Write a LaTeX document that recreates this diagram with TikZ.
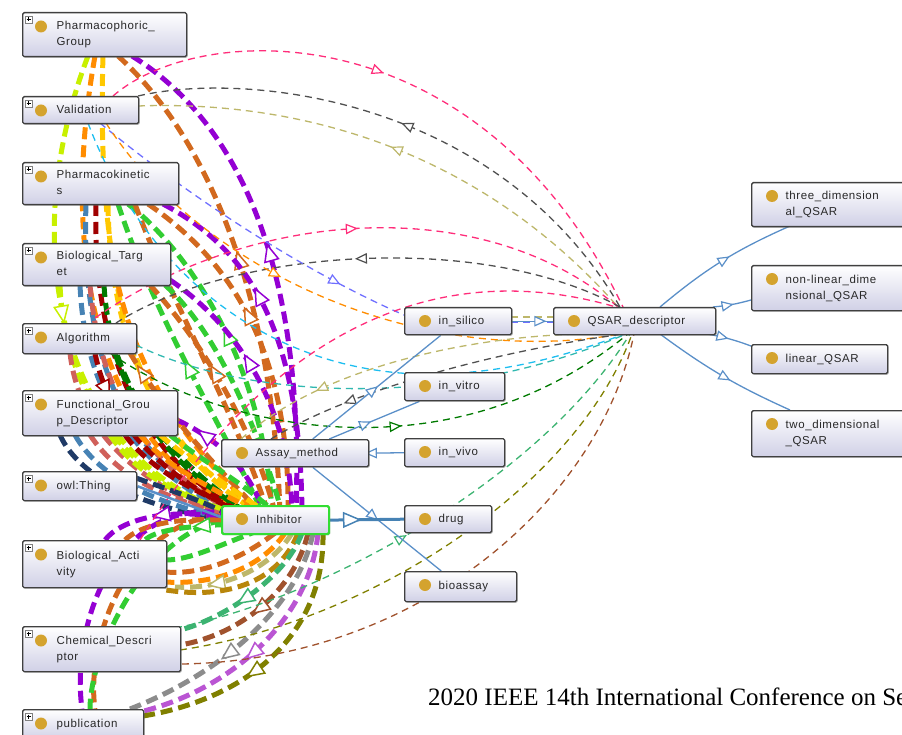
\documentclass[tikz,border=0pt]{standalone}
\usepackage{fontspec}
\setmainfont{Liberation Sans}
\newfontfamily\nodefont[LetterSpace=5]{Liberation Sans}
\newfontfamily\serifont{Liberation Serif}
\usetikzlibrary{arrows.meta,decorations.markings,shadows}
\pgfdeclarelayer{bg}
\pgfsetlayers{bg,main}
\definecolor{ygreen}{RGB}{200,240,0}
\definecolor{orng}{RGB}{255,140,0}
\definecolor{gld}{RGB}{255,200,0}
\definecolor{choco}{RGB}{210,105,30}
\definecolor{purp}{RGB}{148,0,211}
\definecolor{lgreen}{RGB}{50,205,50}
\definecolor{dred}{RGB}{160,0,0}
\definecolor{steel}{RGB}{70,130,180}
\definecolor{salm}{RGB}{208,96,90}
\definecolor{dgreen}{RGB}{0,122,0}
\definecolor{navy2}{RGB}{31,58,102}
\definecolor{seag}{RGB}{60,179,113}
\definecolor{sienna}{RGB}{160,82,45}
\definecolor{gry}{RGB}{140,140,140}
\definecolor{orch}{RGB}{186,85,211}
\definecolor{olive2}{RGB}{128,128,0}
\definecolor{khak}{RGB}{189,183,107}
\definecolor{dgold}{RGB}{184,134,11}
\definecolor{pnk}{RGB}{255,45,122}
\definecolor{cyn}{RGB}{30,190,240}
\definecolor{teal2}{RGB}{48,184,176}
\definecolor{bviol}{RGB}{111,111,255}
\definecolor{dgray}{RGB}{80,80,80}
\definecolor{blueline}{RGB}{90,143,200}
\definecolor{boxline}{RGB}{64,64,64}
\definecolor{boxbot}{RGB}{208,208,230}
\definecolor{inhgreen}{RGB}{51,221,51}
\definecolor{dotc}{RGB}{212,163,46}
\definecolor{txt}{RGB}{40,40,40}
\newcommand{\bx}[2]{\makebox[#1pt][l]{\hspace{31pt}\begin{tabular}{@{}l@{}}#2\end{tabular}}}
\tikzset{
 box/.style={draw=boxline, line width=1.4pt, rounded corners=1.5pt, top color=white, bottom color=boxbot,
   drop shadow={shadow xshift=1.2pt, shadow yshift=-1.2pt, opacity=.35},
   inner xsep=3pt, inner ysep=0pt, anchor=north west, font=\nodefont\fontsize{11.5}{16}\selectfont, text=txt},
 thk/.style={draw=#1, line width=5pt, dash pattern=on 12pt off 6pt},
 thn/.style={draw=#1, line width=1.3pt, dash pattern=on 7pt off 5pt},
 sld/.style={draw=blueline, line width=1.3pt},
 mkf/.style 2 args={postaction={decorate, decoration={markings, mark=at position #1 with
   {\draw[solid, draw=#2, fill=white, line width=1.5pt, line join=miter] (-16pt,-7pt) -- (0pt,0pt) -- (-16pt,7pt) -- cycle;}}}},
 mkr/.style 2 args={postaction={decorate, decoration={markings, mark=at position #1 with
   {\draw[solid, draw=#2, fill=white, line width=1.5pt, line join=miter] (0pt,-7pt) -- (-16pt,0pt) -- (0pt,7pt) -- cycle;}}}},
 smf/.style 2 args={postaction={decorate, decoration={markings, mark=at position #1 with
   {\draw[solid, draw=#2, fill=white, line width=1.2pt, line join=miter] (-10pt,-4.5pt) -- (0pt,0pt) -- (-10pt,4.5pt) -- cycle;}}}},
 smr/.style 2 args={postaction={decorate, decoration={markings, mark=at position #1 with
   {\draw[solid, draw=#2, fill=white, line width=1.2pt, line join=miter] (0pt,-4.5pt) -- (-10pt,0pt) -- (0pt,4.5pt) -- cycle;}}}},
}
\begin{document}
\begin{tikzpicture}[x=1pt,y=-1pt]
\useasboundingbox (0,0) rectangle (902,735);
% ---------- nodes ----------
\node[box, minimum width=164pt, minimum height=44pt] (pg) at (22,12) {\bx{158}{Pharmacophoric\_\\Group}};
\node[box, minimum width=116pt, minimum height=27pt] (val) at (22,96) {\bx{110}{Validation}};
\node[box, minimum width=156pt, minimum height=42pt] (pk) at (22,162) {\bx{150}{Pharmacokinetic\\s}};
\node[box, minimum width=148pt, minimum height=42pt] (bt) at (22,243) {\bx{142}{Biological\_Targ\\et}};
\node[box, minimum width=114pt, minimum height=30pt] (alg) at (22,323) {\bx{108}{Algorithm}};
\node[box, minimum width=155pt, minimum height=45pt] (fg) at (22,390) {\bx{149}{Functional\_Grou\\p\_Descriptor}};
\node[box, minimum width=114pt, minimum height=29pt] (owl) at (22,471) {\bx{108}{owl:Thing}};
\node[box, minimum width=144pt, minimum height=47pt] (ba) at (22,540) {\bx{138}{Biological\_Acti\\vity}};
\node[box, minimum width=158pt, minimum height=45pt] (cd) at (22,626) {\bx{152}{Chemical\_Descri\\ptor}};
\node[box, minimum width=121pt, minimum height=30pt] (pub) at (22,709) {\bx{115}{publication}};
\node[box, minimum width=147pt, minimum height=27pt] (am) at (221,439) {\bx{141}{Assay\_method}};
\node[box, draw=inhgreen, line width=2.2pt, minimum width=107pt, minimum height=28pt] (inh) at (221,505) {\bx{101}{Inhibitor}};
\node[box, minimum width=107pt, minimum height=27pt] (sil) at (404,307) {\bx{101}{in\_silico}};
\node[box, minimum width=100pt, minimum height=28pt] (vit) at (404,372) {\bx{94}{in\_vitro}};
\node[box, minimum width=100pt, minimum height=28pt] (viv) at (404,438) {\bx{94}{in\_vivo}};
\node[box, minimum width=87pt, minimum height=27pt] (drug) at (404,505) {\bx{81}{drug}};
\node[box, minimum width=112pt, minimum height=30pt] (bio) at (404,571) {\bx{106}{bioassay}};
\node[box, minimum width=162pt, minimum height=27pt] (qsar) at (553,307) {\bx{156}{QSAR\_descriptor}};
\node[box, minimum width=152pt, minimum height=44pt] (t3) at (751,182) {\bx{146}{three\_dimension\\al\_QSAR}};
\node[box, minimum width=152pt, minimum height=45pt] (nl) at (751,265) {\bx{146}{non-linear\_dime\\nsional\_QSAR}};
\node[box, minimum width=136pt, minimum height=29pt] (lin) at (751,344) {\bx{130}{linear\_QSAR}};
\node[box, minimum width=152pt, minimum height=46pt] (t2) at (751,410) {\bx{146}{two\_dimensional\\\_QSAR}};
\node[font=\serifont\fontsize{25}{30}\selectfont, text=black, anchor=base west, inner sep=0pt] (conf) at (428,705) {2020 IEEE 14th International Conference on Se};
% dots and icons
\foreach \n in {pg,val,pk,bt,alg,fg,owl,ba,cd,pub}{
  \fill[dotc] ([shift={(19,14.5)}]\n.north west) circle (6pt);
  \draw[gray, line width=.5pt, fill=white] ([shift={(3,4)}]\n.north west) rectangle ([shift={(10,11)}]\n.north west);
  \draw[black, line width=.8pt] ([shift={(4.5,7.5)}]\n.north west) -- ([shift={(8.5,7.5)}]\n.north west)
     ([shift={(6.5,5.5)}]\n.north west) -- ([shift={(6.5,9.5)}]\n.north west);
}
\foreach \n in {am,inh,sil,vit,viv,drug,bio,qsar,t3,nl,lin,t2}{
  \fill[dotc] ([shift={(21,14)}]\n.north west) circle (6pt);
}
% ---------- connectors ----------
\begin{pgfonlayer}{bg}
% thick arcs, upper group
\draw[thk=ygreen] ([shift={(66,44)}]pg.north west) .. controls (10,260) and (70,470) .. ([shift={(19,10)}]inh.north west);
\draw[thk=orng] ([shift={(73,44)}]pg.north west) .. controls (55,280) and (110,460) .. ([shift={(29,7)}]inh.north west);
\draw[thk=gld] ([shift={(81,44)}]pg.north west) .. controls (95,320) and (150,450) .. ([shift={(37,7)}]inh.north west);
\draw[thk=choco, mkr={.5}{choco}] ([shift={(96,44)}]pg.north west) .. controls (200,130) and (272,280) .. ([shift={(59,7)}]inh.north west);
\draw[thk=purp, mkr={.5}{purp}] ([shift={(110,44)}]pg.north west) .. controls (235,120) and (305,260) .. ([shift={(75,7)}]inh.north west);
\draw[thk=steel] ([shift={(64,42)}]pk.north west) .. controls (80,380) and (140,470) .. ([shift={(19,13)}]inh.north west);
\draw[thk=dred] ([shift={(74,42)}]pk.north west) .. controls (92,370) and (150,460) .. ([shift={(24,10)}]inh.north west);
\draw[thk=gld] ([shift={(86,42)}]pk.north west) .. controls (110,360) and (170,450) .. ([shift={(34,7)}]inh.north west);
\draw[thk=lgreen, mkr={.5}{lgreen}] ([shift={(106,42)}]pk.north west) .. controls (200,260) and (265,380) .. ([shift={(51,7)}]inh.north west);
\draw[thk=choco, mkr={.45}{choco}] ([shift={(126,42)}]pk.north west) .. controls (230,260) and (290,350) .. ([shift={(67,7)}]inh.north west);
\draw[thk=purp, mkr={.4}{purp}] ([shift={(141,42)}]pk.north west) .. controls (250,250) and (300,330) .. ([shift={(81,7)}]inh.north west);
\draw[thk=choco] ([shift={(113,42)}]pk.north west) .. controls (170,300) and (230,400) .. ([shift={(47,7)}]inh.north west);
\draw[thk=lgreen, mkr={.55}{lgreen}] ([shift={(96,42)}]pk.north west) .. controls (160,330) and (220,420) .. ([shift={(41,7)}]inh.north west);
\draw[thk=ygreen, mkf={.12}{ygreen}] ([shift={(38,42)}]bt.north west) .. controls (65,400) and (130,480) .. ([shift={(14,13)}]inh.north west);
\draw[thk=steel] ([shift={(58,42)}]bt.north west) .. controls (85,400) and (140,470) .. ([shift={(17,13)}]inh.north west);
\draw[thk=salm] ([shift={(68,42)}]bt.north west) .. controls (100,400) and (150,470) .. ([shift={(21,11)}]inh.north west);
\draw[thk=dgreen] ([shift={(82,42)}]bt.north west) .. controls (110,390) and (170,460) .. ([shift={(29,9)}]inh.north west);
\draw[thk=orng] ([shift={(96,42)}]bt.north west) .. controls (140,380) and (190,450) .. ([shift={(37,7)}]inh.north west);
\draw[thk=choco, mkr={.45}{choco}] ([shift={(128,42)}]bt.north west) .. controls (200,340) and (250,420) .. ([shift={(54,7)}]inh.north west);
\draw[thk=lgreen] ([shift={(143,42)}]bt.north west) .. controls (215,330) and (255,420) .. ([shift={(61,7)}]inh.north west);
\draw[thk=purp, mkr={.45}{purp}] ([shift={(148,37)}]bt.north west) .. controls (230,320) and (290,400) .. ([shift={(71,7)}]inh.north west);
\draw[thk=purp, mkr={.3}{purp}] ([shift={(155,30)}]fg.north west) .. controls (220,440) and (250,470) .. ([shift={(44,10)}]inh.north west);
\draw[thk=salm] ([shift={(48,30)}]alg.north west) .. controls (80,440) and (150,490) .. ([shift={(15,15)}]inh.north west);
\draw[thk=dred, mkf={.2}{dred}] ([shift={(73,30)}]alg.north west) .. controls (110,430) and (170,480) .. ([shift={(25,11)}]inh.north west);
\draw[thk=choco, mkr={.15}{choco}] ([shift={(108,30)}]alg.north west) .. controls (170,420) and (220,470) .. ([shift={(41,9)}]inh.north west);
\draw[thk=dgreen] ([shift={(93,30)}]alg.north west) .. controls (140,430) and (190,480) .. ([shift={(31,10)}]inh.north west);
\draw[thk=navy2] ([shift={(38,45)}]fg.north west) .. controls (80,480) and (150,510) .. ([shift={(9,15)}]inh.north west);
\draw[thk=steel] ([shift={(53,45)}]fg.north west) .. controls (100,480) and (160,505) .. ([shift={(11,15)}]inh.north west);
\draw[thk=salm] ([shift={(68,45)}]fg.north west) .. controls (120,480) and (170,500) .. ([shift={(17,13)}]inh.north west);
\draw[thk=ygreen] ([shift={(88,45)}]fg.north west) .. controls (140,480) and (190,500) .. ([shift={(24,11)}]inh.north west);
\draw[thk=dred] ([shift={(103,45)}]fg.north west) .. controls (150,470) and (200,495) .. ([shift={(29,9)}]inh.north west);
\draw[thk=orng] ([shift={(118,45)}]fg.north west) .. controls (170,470) and (215,490) .. ([shift={(37,7)}]inh.north west);
\draw[thk=gld] ([shift={(138,45)}]fg.north west) .. controls (190,460) and (225,485) .. ([shift={(45,7)}]inh.north west);
\draw[thk=lgreen] ([shift={(148,45)}]fg.north west) .. controls (200,460) and (240,480) .. ([shift={(51,5)}]inh.north west);
\draw[thk=navy2] ([shift={(114,7)}]owl.north west) .. controls (170,490) and (200,500) .. ([shift={(9,10)}]inh.north west);
% thick arcs, lower group
\draw[thk=purp] ([shift={(11,10)}]inh.north west) .. controls (120,490) and (70,620) .. ([shift={(60,0)}]pub.north west);
\draw[thk=choco] ([shift={(15,10)}]inh.north west) .. controls (130,510) and (85,640) .. ([shift={(73,0)}]pub.north west);
\draw[thk=lgreen] ([shift={(19,13)}]inh.north west) .. controls (150,520) and (90,650) .. ([shift={(68,0)}]pub.north west);
\draw[thk=purp, mkf={.6}{purp}] ([shift={(15,15)}]inh.north west) .. controls (170,505) and (120,520) .. ([shift={(83,0)}]ba.north west);
\draw[thk=choco] ([shift={(19,17)}]inh.north west) .. controls (180,515) and (140,525) .. ([shift={(103,0)}]ba.north west);
\draw[thk=lgreen, mkf={.5}{lgreen}] ([shift={(24,19)}]inh.north west) .. controls (190,525) and (155,530) .. ([shift={(123,0)}]ba.north west);
\draw[thk=lgreen] ([shift={(39,25)}]inh.north west) .. controls (220,545) and (190,560) .. ([shift={(144,20)}]ba.north west);
\draw[thk=choco] ([shift={(54,28)}]inh.north west) .. controls (240,560) and (200,575) .. ([shift={(144,32)}]ba.north west);
\draw[thk=orng] ([shift={(64,28)}]inh.north west) .. controls (260,570) and (210,585) .. ([shift={(144,42)}]ba.north west);
\draw[thk=khak, mkf={.75}{khak}] ([shift={(71,28)}]inh.north west) .. controls (270,570) and (220,590) .. ([shift={(153,47)}]ba.north west);
\draw[thk=dgold] ([shift={(77,28)}]inh.north west) .. controls (280,580) and (230,600) .. ([shift={(144,50)}]ba.north west);
\draw[thk=seag, mkf={.6}{seag}] ([shift={(81,28)}]inh.north west) .. controls (285,580) and (220,620) .. ([shift={(158,4)}]cd.north west);
\draw[thk=sienna, mkf={.55}{sienna}] ([shift={(87,28)}]inh.north west) .. controls (295,590) and (240,635) .. ([shift={(158,19)}]cd.north west);
\draw[thk=gry, mkf={.6}{gry}] ([shift={(92,28)}]inh.north west) .. controls (300,600) and (230,670) .. ([shift={(108,0)}]pub.north west);
\draw[thk=orch, mkf={.55}{orch}] ([shift={(97,28)}]inh.north west) .. controls (310,620) and (230,690) .. ([shift={(118,3)}]pub.north west);
\draw[thk=olive2, mkf={.6}{olive2}] ([shift={(102,28)}]inh.north west) .. controls (325,640) and (240,700) .. ([shift={(121,7)}]pub.north west);
% thin dashed arcs to QSAR_descriptor
\draw[thn=pnk, smf={.45}{pnk}] ([shift={(91,0)}]val.north west) .. controls (200,20) and (480,10) .. ([shift={(70,0)}]qsar.north west);
\draw[thn=dgray, smr={.5}{dgray}] ([shift={(116,0)}]val.north west) .. controls (250,70) and (500,100) .. ([shift={(67,0)}]qsar.north west);
\draw[thn=khak, smr={.5}{khak}] ([shift={(116,10)}]val.north west) .. controls (300,100) and (480,150) .. ([shift={(65,0)}]qsar.north west);
\draw[thn=pnk, smf={.5}{pnk}] ([shift={(73,-5)}]alg.north west) .. controls (250,210) and (480,190) .. ([shift={(65,0)}]qsar.north west);
\draw[thn=dgray, smr={.5}{dgray}] ([shift={(94,0)}]alg.north west) .. controls (230,250) and (480,230) .. ([shift={(67,0)}]qsar.north west);
\draw[thn=bviol, smf={.8}{bviol}] ([shift={(78,27)}]val.north west) .. controls (180,190) and (300,270) .. ([shift={(0,8)}]sil.north west);
\draw[thn=orng, smf={.4}{orng}] ([shift={(84,27)}]val.north west) .. controls (200,270) and (420,370) .. ([shift={(67,27)}]qsar.north west);
\draw[thn=cyn] ([shift={(66,27)}]val.north west) .. controls (140,260) and (250,360) .. (400,373) .. controls (500,380) and (580,350) .. ([shift={(72,27)}]qsar.north west);
\draw[thn=teal2] ([shift={(114,22)}]alg.north west) .. controls (250,400) and (450,410) .. ([shift={(73,27)}]qsar.north west);
\draw[thn=khak, smr={.25}{khak}] ([shift={(20,0)}]am.north west) .. controls (330,360) and (500,330) .. ([shift={(69,27)}]qsar.north west);
\draw[thn=dgray, smr={.25}{dgray}] ([shift={(50,0)}]am.north west) .. controls (350,390) and (500,350) .. ([shift={(71,27)}]qsar.north west);
\draw[thn=dgreen, smf={.55}{dgreen}] ([shift={(88,30)}]alg.north west) .. controls (220,430) and (450,480) .. ([shift={(75,27)}]qsar.north west);
\draw[thn=seag, smf={.45}{seag}] ([shift={(153,2)}]cd.north west) .. controls (320,600) and (540,480) .. ([shift={(77,27)}]qsar.north west);
\draw[thn=olive2] ([shift={(158,24)}]cd.north west) .. controls (380,620) and (580,480) .. ([shift={(79,27)}]qsar.north west);
\draw[thn=sienna, smf={.45}{sienna}] ([shift={(160,38)}]cd.north west) .. controls (420,660) and (600,500) .. ([shift={(81,27)}]qsar.north west);
\draw[thn=pnk] ([shift={(118,0)}]ba.north west) .. controls (260,350) and (420,250) .. ([shift={(63,0)}]qsar.north west);
\draw[thn=khak] ([shift={(107,10)}]sil.north west) -- ([shift={(0,10)}]qsar.north west);
\draw[thn=bviol] ([shift={(107,15)}]sil.north west) -- ([shift={(0,15)}]qsar.north west);
% solid blue is-a links
\draw[sld, smf={.8}{blueline}] (sil.east) -- (qsar.west);
\draw[sld, smf={.5}{blueline}] (am) -- (sil);
\draw[sld, smf={.45}{blueline}] (am) -- (vit);
\draw[sld, smr={.2}{blueline}] (am.east) -- (viv.west);
\draw[sld, smf={.5}{blueline}] (am) -- (bio);
\draw[draw=steel, line width=3pt, mkf={.4}{steel}] (inh.east) -- (drug.west);
\draw[sld, line width=2.5pt] (owl.east) -- ([shift={(0,12)}]inh.north west);
\draw[sld, smf={.55}{blueline}] ([shift={(107,0)}]qsar.north west) to[bend left=8] ([shift={(39,44)}]t3.north west);
\draw[sld, smf={.5}{blueline}] ([shift={(160,0)}]qsar.north west) to[bend right=5] ([shift={(0,35)}]nl.north west);
\draw[sld, smf={.45}{blueline}] ([shift={(154,27)}]qsar.north west) to[bend left=5] ([shift={(0,2)}]lin.north west);
\draw[sld, smf={.55}{blueline}] ([shift={(107,27)}]qsar.north west) to[bend right=6] ([shift={(39,0)}]t2.north west);
\end{pgfonlayer}
\end{tikzpicture}
\end{document}
